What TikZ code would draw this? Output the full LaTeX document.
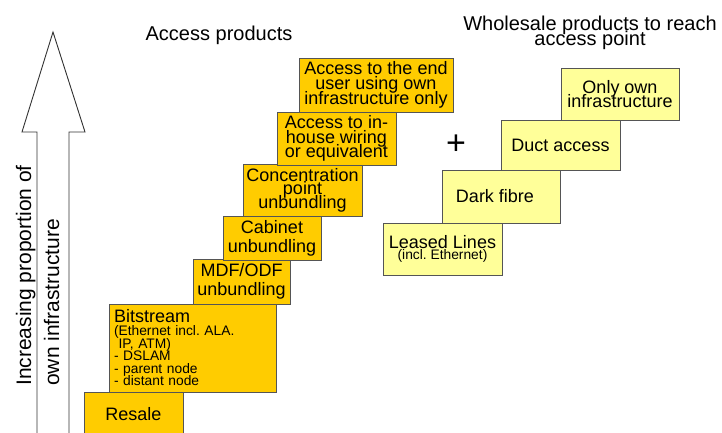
\documentclass[tikz,border=0pt]{standalone}
\usepackage{fontspec}
\setmainfont{Liberation Sans}
\frenchspacing
\definecolor{orangebox}{HTML}{FFCC00}
\definecolor{yellowbox}{HTML}{FFFF99}
\definecolor{edgegray}{HTML}{555555}
\newcommand{\tightlines}{\lineskiplimit=-60pt\relax\lineskip=0pt\relax}
\newcommand{\bigtxt}[1]{\fontsize{18}{#1}\selectfont\tightlines}
\newcommand{\largetxt}{\fontsize{18}{18}\selectfont}
\newcommand{\smallfont}[1]{\fontsize{13.8}{#1}\selectfont\tightlines}
\newcommand{\titlefont}{\fontsize{20}{14.5}\selectfont\tightlines}
\begin{document}
\begin{tikzpicture}[x=1pt,y=-1pt,
  obox/.style={draw=edgegray, line width=0.9pt, fill=orangebox, inner sep=0pt, align=center},
  ybox/.style={draw=edgegray, line width=0.9pt, fill=yellowbox, inner sep=0pt, align=center},
  titletxt/.style={font=\titlefont, align=center, inner sep=0pt},
  sidetxt/.style={font=\fontsize{21}{21}\selectfont, rotate=90, anchor=base west, inner sep=0pt}]
\useasboundingbox (0,0) rectangle (722,432);
\clip (0,0) rectangle (722,432);
\fill[white] (0,0) rectangle (722,432);
% big arrow
\draw[line width=0.9pt, draw=black!80, fill=white] (37,445) -- (37,132) -- (22,132) -- (53,32) -- (85,132) -- (69,132) -- (69,445) -- cycle;
\node[sidetxt] (side1) at (31,386) {Increasing proportion of};
\node[sidetxt] (side2) at (59,386) {own infrastructure};
% titles
\node[titletxt, anchor=base] (t1) at (219,40) {Access products};
\node[titletxt] (t2) at (590,33) {Wholesale products to reach\\access point};
% access products boxes
\node[obox, minimum width=99pt, minimum height=44pt, font=\bigtxt{19}] (resale) at (133.5,414) {Resale};
\node[obox, minimum width=167pt, minimum height=88pt, align=left, text width=157pt, font=\smallfont{12.6}] (bit) at (192.5,348)
  {{\largetxt Bitstream}\\(Ethernet incl. ALA.\\ \ IP, ATM)\\- DSLAM\\- parent node\\- distant node};
\node[obox, minimum width=97pt, minimum height=45pt, font=\bigtxt{19}] (mdf) at (241.5,281.5) {MDF/ODF\\unbundling};
\node[obox, minimum width=98pt, minimum height=44pt, font=\bigtxt{19}] (cab) at (272,238) {Cabinet\\unbundling};
\node[obox, minimum width=119pt, minimum height=52pt, font=\bigtxt{13.5}] (conc) at (302.5,190) {Concentration\\point\\unbundling};
\node[obox, minimum width=119pt, minimum height=53pt, font=\bigtxt{14.5}] (inhouse) at (336.5,138.5) {Access to in-\\house wiring\\or equivalent};
\node[obox, minimum width=154pt, minimum height=54pt, font=\bigtxt{15}] (enduser) at (376,85) {Access to the end\\user using own\\infrastructure only};
% plus
\node[font=\fontsize{34}{34}\selectfont, inner sep=0pt] (plus) at (456,145) {+};
% wholesale boxes
\node[ybox, minimum width=119pt, minimum height=52pt, font=\smallfont{11.5}] (leased) at (442.5,249)
  {{\largetxt Leased Lines}\\(incl. Ethernet)};
\node[ybox, minimum width=118pt, minimum height=53pt, font=\bigtxt{19}] (dark) at (501,196.5) {Dark fibre\hspace{12pt}};
\node[ybox, minimum width=119pt, minimum height=50pt, font=\bigtxt{19}] (duct) at (560.5,145) {Duct access};
\node[ybox, minimum width=118pt, minimum height=52pt, font=\bigtxt{13.5}] (own) at (620,94) {Only own\\infrastructure};
\end{tikzpicture}
\end{document}
